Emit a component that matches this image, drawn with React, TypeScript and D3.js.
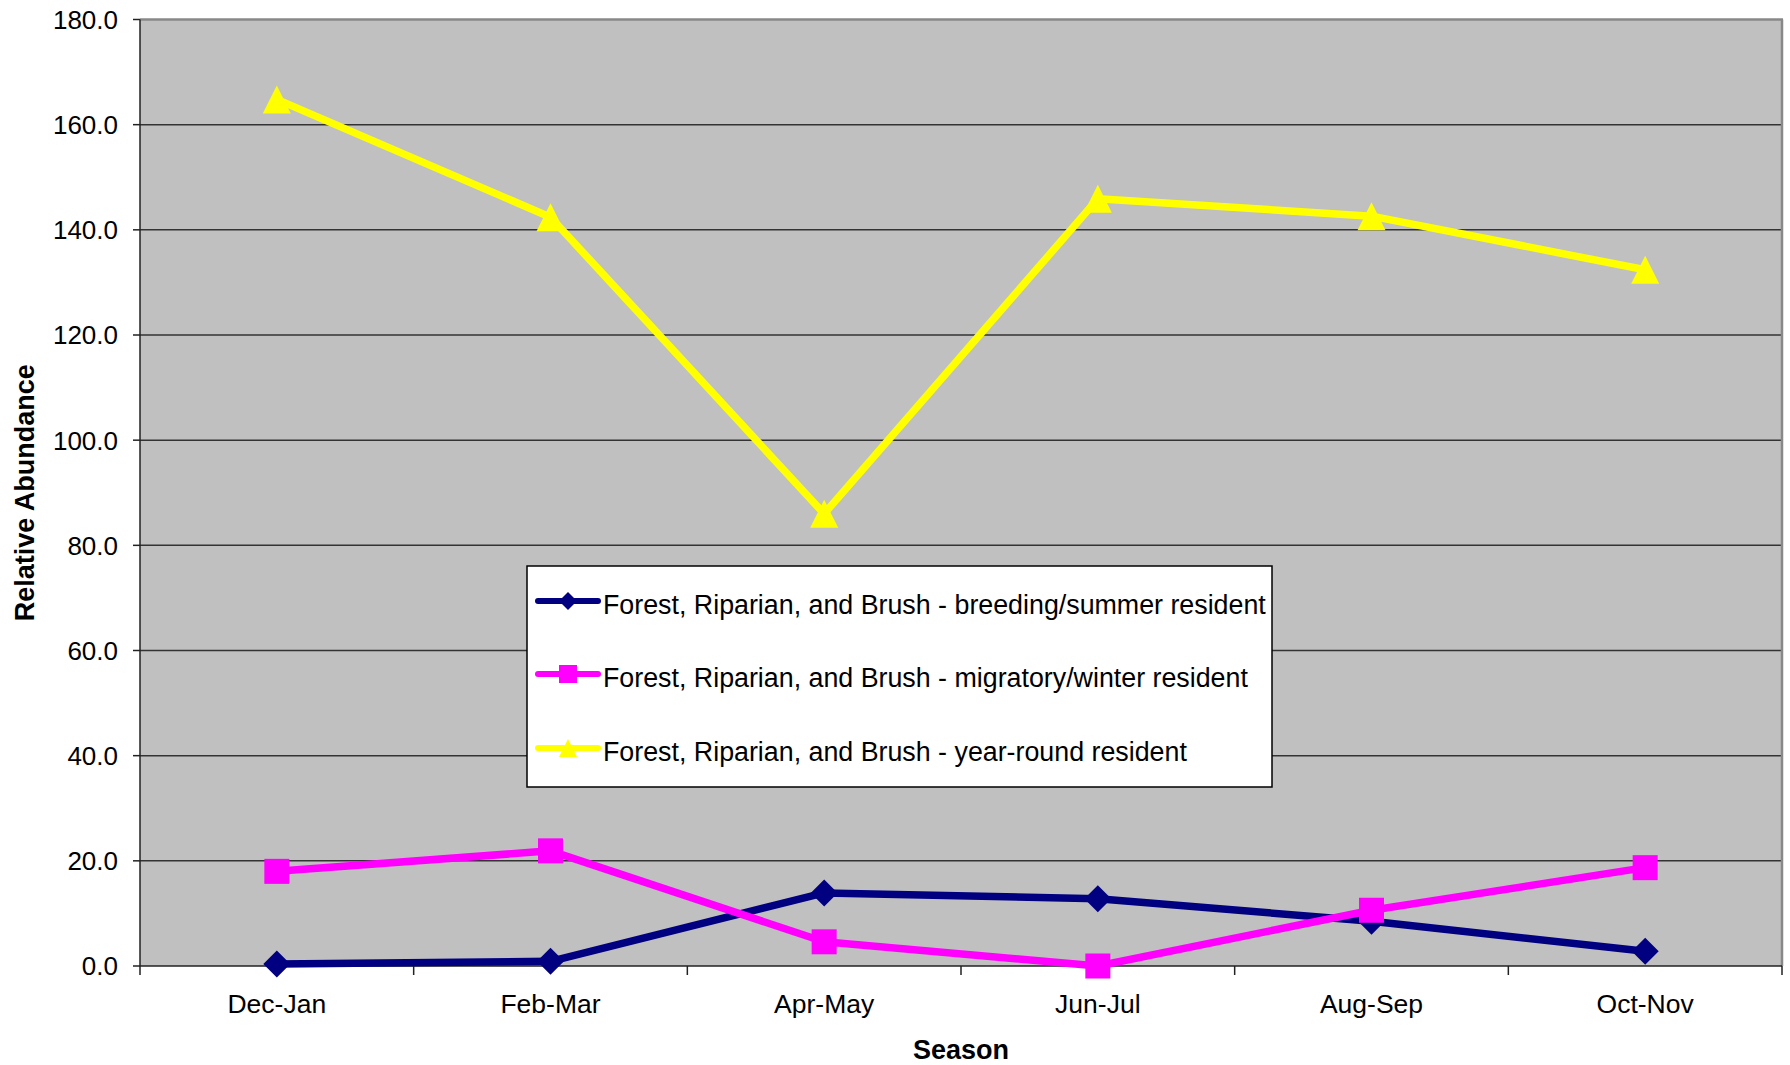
import React from "react";
import * as d3 from "d3";

const categories = ["Dec-Jan", "Feb-Mar", "Apr-May", "Jun-Jul", "Aug-Sep", "Oct-Nov"];
const breeding = [0.4, 0.9, 13.9, 12.8, 8.5, 2.8];
const migratory = [18.0, 21.9, 4.6, 0.0, 10.6, 18.7];
const yearRound = [164.8, 142.4, 86.0, 145.9, 142.6, 132.4];
const yTicks = [0, 20, 40, 60, 80, 100, 120, 140, 160, 180];
const seriesNames = [
  "Forest, Riparian, and Brush - breeding/summer resident",
  "Forest, Riparian, and Brush - migratory/winter resident",
  "Forest, Riparian, and Brush - year-round resident",
];

const W = 1790;
const H = 1065;
const L = 140, R = 1782, T = 19.5, B = 966;
const FONT = "'Liberation Sans', Arial, sans-serif";

type Shape = "diamond" | "square" | "triangle";

function marker(shape: Shape, x: number, y: number, s: number, color: string, key?: string) {
  const h = s / 2;
  if (shape === "diamond") {
    return <path key={key} d={`M${x},${y - h}L${x + h},${y}L${x},${y + h}L${x - h},${y}Z`} fill={color} />;
  }
  if (shape === "square") {
    return <rect key={key} x={x - h} y={y - h} width={s} height={s} fill={color} />;
  }
  return <path key={key} d={`M${x},${y - h}L${x + h},${y + h}L${x - h},${y + h}Z`} fill={color} />;
}

export default function App() {
  const x = d3.scaleBand<string>().domain(categories).range([L, R]).padding(0);
  const y = d3.scaleLinear().domain([0, 180]).range([B, T]);
  const cx = (c: string) => (x(c) as number) + x.bandwidth() / 2;
  const fmt = d3.format(".1f");

  const series = [
    { name: seriesNames[0], values: breeding, color: "#000080", shape: "diamond" as Shape, size: 27 },
    { name: seriesNames[1], values: migratory, color: "#FF00FF", shape: "square" as Shape, size: 25 },
    { name: seriesNames[2], values: yearRound, color: "#FFFF00", shape: "triangle" as Shape, size: 28 },
  ];

  const line = d3.line<number>()
    .x((_, i) => cx(categories[i]))
    .y((d) => y(d));

  const boundaries = d3.range(categories.length + 1).map((i) =>
    i < categories.length ? (x(categories[i]) as number) : R
  );

  const legX = 527, legY = 566, legW = 745, legH = 221;
  const legRows = [601, 674, 748];

  return (
    <svg width={W} height={H} style={{ position: "absolute", left: 0, top: 0 }} fontFamily={FONT}>
      <rect x={0} y={0} width={W} height={H} fill="#fff" />
      <rect x={L} y={T} width={R - L} height={B - T} fill="#C0C0C0" />
      {yTicks.slice(1, -1).map((t) => (
        <line key={t} x1={L} x2={R} y1={y(t)} y2={y(t)} stroke="#333" strokeWidth={1.5} />
      ))}
      {/* frame top & right */}
      <line x1={L} x2={R + 1} y1={T} y2={T} stroke="#888" strokeWidth={2.5} />
      <line x1={R} x2={R} y1={T} y2={B} stroke="#888" strokeWidth={2.5} />
      {/* axes */}
      <line x1={L} x2={L} y1={T} y2={B} stroke="#222" strokeWidth={1.5} />
      <line x1={L} x2={R} y1={B} y2={B} stroke="#222" strokeWidth={1.5} />
      {yTicks.map((t) => (
        <g key={t}>
          <line x1={133} x2={L} y1={y(t)} y2={y(t)} stroke="#222" strokeWidth={1.5} />
          <text x={118} y={y(t)} dy="0.36em" textAnchor="end" fontSize={26} fill="#000">
            {fmt(t)}
          </text>
        </g>
      ))}
      {boundaries.map((b, i) => (
        <line key={i} x1={b} x2={b} y1={B} y2={B + 9} stroke="#222" strokeWidth={1.5} />
      ))}
      {categories.map((c) => (
        <text key={c} x={cx(c)} y={1013} textAnchor="middle" fontSize={26.5} fill="#000">
          {c}
        </text>
      ))}
      <text x={(L + R) / 2} y={1059} textAnchor="middle" fontSize={27} fontWeight="bold">
        Season
      </text>
      <text
        transform={`translate(34,${(T + B) / 2}) rotate(-90)`}
        textAnchor="middle"
        fontSize={27}
        fontWeight="bold"
      >
        Relative Abundance
      </text>

      {series.map((s) => (
        <g key={s.name}>
          <path d={line(s.values) || ""} fill="none" stroke={s.color} strokeWidth={7.5} strokeLinejoin="round" />
          {s.values.map((v, i) => marker(s.shape, cx(categories[i]), y(v), s.size, s.color, `${s.name}-${i}`))}
        </g>
      ))}

      <rect x={legX} y={legY} width={legW} height={legH} fill="#fff" stroke="#000" strokeWidth={1.5} />
      {series.map((s, i) => (
        <g key={s.name}>
          <line x1={538} x2={598} y1={legRows[i]} y2={legRows[i]} stroke={s.color} strokeWidth={6} strokeLinecap="round" />
          {marker(s.shape, 568, legRows[i], 18, s.color)}
          <text x={603} y={legRows[i] + 3} dy="0.36em" fontSize={26.8} fill="#000">
            {s.name}
          </text>
        </g>
      ))}
    </svg>
  );
}
